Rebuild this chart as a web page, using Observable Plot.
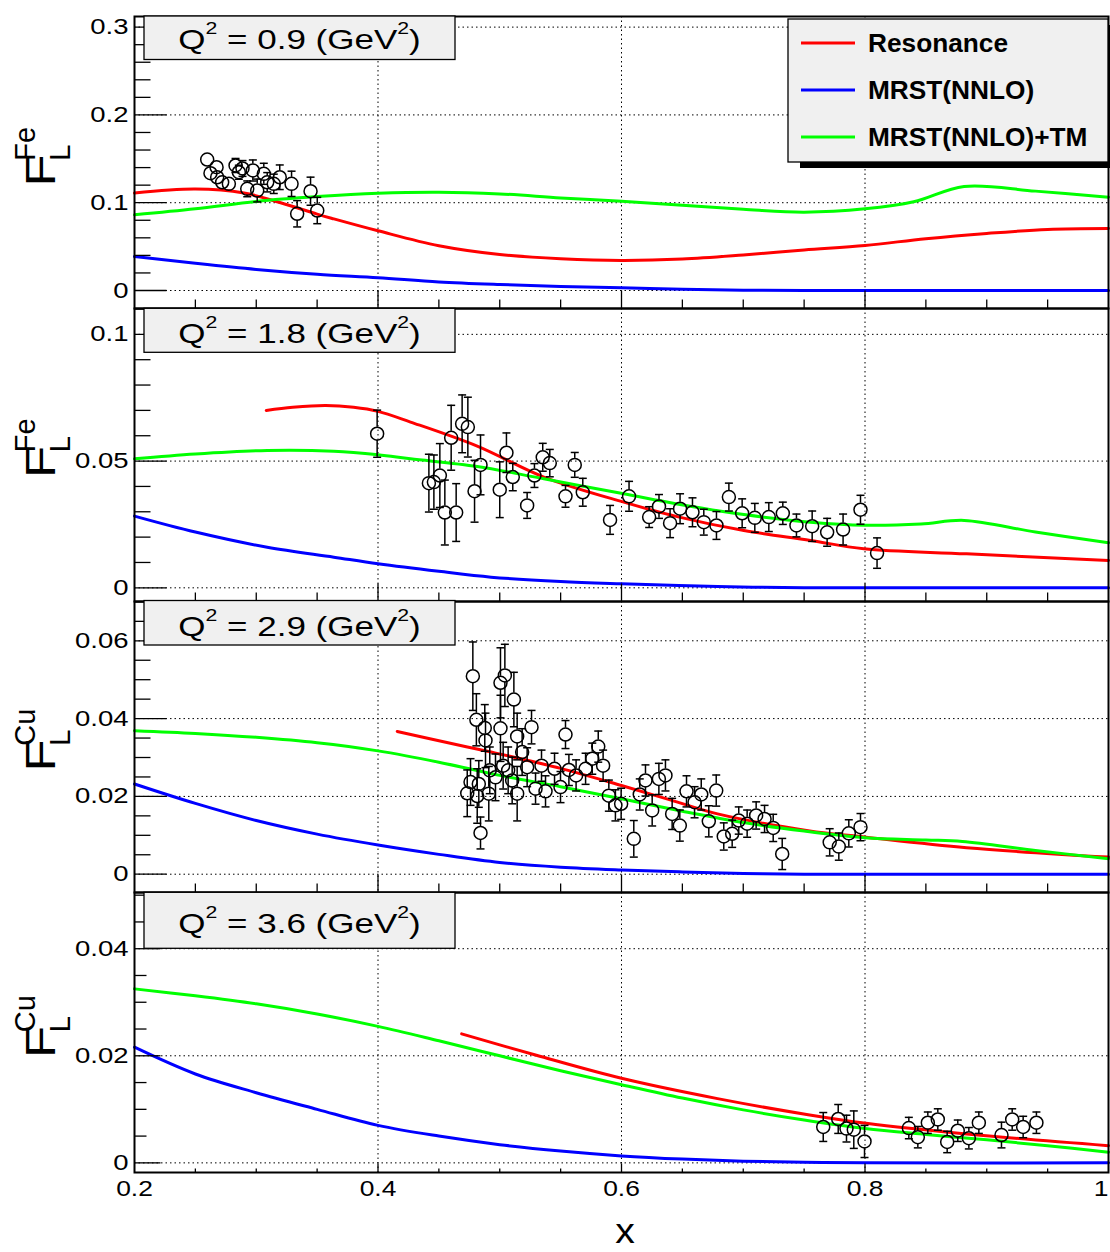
<!DOCTYPE html>
<html><head><meta charset="utf-8">
<script src="https://cdn.jsdelivr.net/npm/d3@7"></script>
<script src="https://cdn.jsdelivr.net/npm/@observablehq/plot@0.6"></script>
<style>
body{margin:0;background:#fff;}
#chart{position:relative;width:1110px;height:1252px;overflow:hidden;background:#fff;font-family:"Liberation Sans",Arial,Helvetica,sans-serif;}
#chart svg.panel{position:absolute;left:0;}
#overlay{position:absolute;left:0;top:0;pointer-events:none;}
</style></head><body><div id="chart"></div>
<script>
// ---------------- data ----------------
const xDomain = [0.2, 1.0];
const xTickValues = [0.2, 0.4, 0.6, 0.8, 1.0];
const q2Values = ["0.9", "1.8", "2.9", "3.6"];
const targets = ["Fe", "Fe", "Cu", "Cu"];
const legendNames = ["Resonance", "MRST(NNLO)", "MRST(NNLO)+TM"];

// Q2 = 0.9, Fe
const fe09YTicks = [0, 0.1, 0.2, 0.3];
const fe09Resonance = [[0.2,0.111],[0.25,0.1155],[0.29,0.111],[0.32,0.100],[0.35,0.087],[0.3637,0.0816],[0.4,0.068],[0.45,0.051],[0.5,0.041],[0.55,0.0362],[0.6,0.0342],[0.65,0.0358],[0.7,0.0405],[0.75,0.0462],[0.8,0.0513],[0.85,0.059],[0.9,0.065],[0.95,0.0695],[1.0,0.0706]];
const fe09Mrst = [[0.2,0.0387],[0.25,0.031],[0.3,0.024],[0.35,0.0185],[0.4,0.0145],[0.45,0.0098],[0.5,0.0068],[0.55,0.0045],[0.6,0.0031],[0.65,0.0014],[0.7,0.0004],[0.75,0],[0.85,0],[1.0,0]];
const fe09MrstTm = [[0.2,0.0862],[0.25,0.093],[0.3,0.1015],[0.35,0.107],[0.4,0.1108],[0.45,0.112],[0.5,0.110],[0.55,0.1055],[0.6,0.1017],[0.65,0.097],[0.7,0.0925],[0.75,0.0892],[0.8,0.093],[0.84,0.101],[0.8814,0.1185],[0.94,0.1132],[1.0,0.1063]];
const fe09X = [0.2597,0.2624,0.2674,0.2679,0.2720,0.2775,0.2830,0.2857,0.2887,0.2926,0.2972,0.3008,0.3062,0.3090,0.3144,0.3193,0.3290,0.3336,0.3446,0.3501];
const fe09Y = [0.1492,0.1336,0.1404,0.1290,0.1233,0.1215,0.1424,0.1347,0.1390,0.1158,0.1367,0.1139,0.1329,0.1233,0.1215,0.1290,0.1215,0.0874,0.1131,0.0911];
const fe09Err = [0.005,0.005,0.006,0.006,0.006,0.006,0.008,0.008,0.009,0.009,0.012,0.013,0.012,0.011,0.011,0.014,0.0144,0.015,0.016,0.015];

// Q2 = 1.8, Fe
const fe18YTicks = [0, 0.05, 0.1];
const fe18Resonance = [[0.3082,0.070],[0.33,0.0712],[0.357,0.0719],[0.38,0.0712],[0.4,0.0696],[0.4267,0.0654],[0.4815,0.0559],[0.5362,0.0437],[0.6019,0.0338],[0.6457,0.0281],[0.7005,0.0226],[0.7552,0.0187],[0.799,0.0154],[0.8834,0.0134],[1.0,0.0108]];
const fe18Mrst = [[0.2,0.0283],[0.25,0.022],[0.309,0.016],[0.3637,0.0121],[0.4,0.0095],[0.45,0.0065],[0.4928,0.0042],[0.55,0.0025],[0.6,0.0016],[0.6789,0.0005],[0.75,0],[0.85,0],[1.0,0]];
const fe18MrstTm = [[0.2,0.0509],[0.25,0.0528],[0.309,0.0542],[0.3637,0.0539],[0.4,0.0525],[0.4267,0.0509],[0.4815,0.0479],[0.5362,0.043],[0.6019,0.0371],[0.6457,0.0331],[0.7005,0.0289],[0.7552,0.0259],[0.8,0.0247],[0.846,0.0252],[0.8815,0.0266],[0.94,0.022],[1.0,0.0178]];
const fe18X = [0.3993,0.4418,0.4459,0.4508,0.4549,0.4601,0.4642,0.4691,0.4738,0.4793,0.4842,0.5000,0.5055,0.5107,0.5225,0.5285,0.5353,0.5411,0.5540,0.5616,0.5682,0.5906,0.6062,0.6227,0.6308,0.6399,0.6481,0.6583,0.6676,0.6780,0.6882,0.6991,0.7095,0.7210,0.7325,0.7437,0.7566,0.7689,0.7820,0.7963,0.8099];
const fe18Y = [0.0608,0.0413,0.0417,0.0443,0.0297,0.0592,0.0297,0.0647,0.0634,0.0381,0.0485,0.0387,0.0533,0.0437,0.0325,0.0443,0.0515,0.0492,0.0361,0.0485,0.0377,0.0268,0.0361,0.0279,0.0321,0.0255,0.0312,0.0298,0.0259,0.0246,0.0358,0.0294,0.0276,0.0279,0.0294,0.0246,0.0243,0.0219,0.0230,0.0308,0.0137];
const fe18Err = [0.0093,0.0114,0.0107,0.0126,0.0128,0.0128,0.0114,0.0114,0.0118,0.0122,0.0118,0.0110,0.0078,0.0054,0.0051,0.0047,0.0055,0.0054,0.0043,0.0049,0.0055,0.0057,0.0059,0.0041,0.0047,0.0057,0.0059,0.0057,0.0051,0.0055,0.0055,0.0057,0.0057,0.0057,0.0044,0.0045,0.0060,0.0055,0.0061,0.0057,0.0060];

// Q2 = 2.9, Cu
const cu29YTicks = [0, 0.02, 0.04, 0.06];
const cu29Resonance = [[0.4158,0.0367],[0.4678,0.0331],[0.4929,0.0314],[0.55,0.0272],[0.6,0.0228],[0.64,0.0191],[0.6789,0.0155],[0.7533,0.0112],[0.8009,0.0095],[0.8834,0.0068],[1.0,0.0044]];
const cu29Mrst = [[0.2,0.0232],[0.25,0.0182],[0.3,0.0138],[0.35,0.0103],[0.4,0.0075],[0.45,0.0051],[0.5,0.0030],[0.55,0.0018],[0.6,0.0011],[0.65,0.0006],[0.7,0.0002],[0.75,0],[0.85,0],[1.0,0]];
const cu29MrstTm = [[0.2,0.0369],[0.25,0.0362],[0.3,0.0352],[0.35,0.0338],[0.4,0.0317],[0.45,0.0288],[0.5,0.0254],[0.55,0.0225],[0.6,0.0194],[0.65,0.0162],[0.7,0.0133],[0.75,0.0111],[0.8,0.0094],[0.85,0.0088],[0.88,0.0084],[0.94,0.0061],[1.0,0.004]];
const cu29X = [0.4779,0.4808,0.4877,0.4883,0.5006,0.5042,0.5006,0.5116,0.5143,0.5184,0.5261,0.5540,0.4760,0.4828,0.4733,0.4815,0.4910,0.4965,0.5028,0.4918,0.5069,0.5102,0.5143,0.5225,0.5294,0.5343,0.5376,0.5450,0.5499,0.5568,0.5627,0.5705,0.5760,0.5809,0.4842,
  0.5849,0.5896,0.5950,0.5997,0.6101,0.6150,0.6197,0.6252,0.6307,0.6361,0.6416,0.6479,0.6534,0.6600,0.6655,0.6717,0.6778,0.6840,0.6909,0.6963,0.7032,0.7106,0.7175,0.7246,0.7320,0.7710,0.7785,0.7867,0.7963];
const cu29Y = [0.0509,0.0397,0.0376,0.0344,0.0492,0.0511,0.0375,0.0449,0.0354,0.0314,0.0378,0.0359,0.0237,0.0232,0.0208,0.0201,0.0207,0.0249,0.0279,0.0267,0.0267,0.0241,0.0207,0.0275,0.0220,0.0279,0.0213,0.0271,0.0224,0.0268,0.0254,0.0271,0.0297,0.0328,0.0106,
  0.0279,0.0202,0.0177,0.0181,0.0091,0.0205,0.0241,0.0164,0.0245,0.0254,0.0155,0.0125,0.0213,0.0185,0.0205,0.0136,0.0215,0.0097,0.0104,0.0138,0.0130,0.0151,0.0142,0.0119,0.0052,0.0082,0.0071,0.0105,0.0121];
const cu29Err = [0.0088,0.0067,0.0060,0.0070,0.0090,0.0080,0.0085,0.0070,0.0060,0.0060,0.0043,0.0036,0.0060,0.0060,0.0060,0.0070,0.0070,0.0060,0.0060,0.0060,0.0060,0.0060,0.0070,0.0050,0.0040,0.0040,0.0040,0.0040,0.0040,0.0040,0.0040,0.0040,0.0040,0.0040,0.0041,
  0.0040,0.0040,0.0040,0.0040,0.0047,0.0040,0.0040,0.0040,0.0040,0.0040,0.0040,0.0040,0.0040,0.0040,0.0040,0.0040,0.0040,0.0035,0.0035,0.0035,0.0035,0.0035,0.0035,0.0035,0.0040,0.0035,0.0035,0.0035,0.0035];

// Q2 = 3.6, Cu
const cu36YTicks = [0, 0.02, 0.04];
const cu36Resonance = [[0.4687,0.0241],[0.5301,0.0201],[0.6,0.0158],[0.6789,0.012],[0.7533,0.009],[0.8009,0.0074],[0.8834,0.0054],[1.0,0.0032]];
const cu36Mrst = [[0.2,0.0216],[0.25,0.0166],[0.3,0.0131],[0.35,0.0100],[0.4,0.0070],[0.45,0.0050],[0.5,0.0034],[0.55,0.0022],[0.6,0.0013],[0.65,0.0007],[0.7,0.0003],[0.75,0.0001],[0.8,0],[1.0,0]];
const cu36MrstTm = [[0.2,0.0325],[0.25,0.0312],[0.3,0.0297],[0.35,0.0278],[0.4,0.0255],[0.45,0.0228],[0.5,0.0200],[0.55,0.0172],[0.6,0.0146],[0.65,0.0121],[0.7,0.0099],[0.75,0.0080],[0.8,0.0064],[0.85,0.0053],[0.9,0.0043],[0.95,0.0032],[1.0,0.002]];
const cu36X = [0.7657,0.7780,0.7848,0.7908,0.7996,0.8360,0.8434,0.8516,0.8598,0.8675,0.8762,0.8853,0.8935,0.9121,0.9209,0.9299,0.9408];
const cu36Y = [0.0067,0.0082,0.0064,0.0062,0.0040,0.0065,0.0048,0.0075,0.0081,0.0039,0.0060,0.0046,0.0075,0.0052,0.0081,0.0067,0.0075];
const cu36Err = [0.0027,0.0027,0.0025,0.0035,0.0030,0.0020,0.0020,0.0020,0.0020,0.0020,0.0020,0.0020,0.0020,0.0024,0.0020,0.0020,0.0020];

// ---------------- layout ----------------
const COLORS = {res: "#ff0000", mrst: "#0000ff", tm: "#00ff00"};
const panels = [
  {top: 0, height: 308, mt: 16, mb: 0, domain: [-0.0205, 0.3121], yTicks: fe09YTicks, minorStep: 0.02, majLen: 32, minLen: 16, xMaj: 18, xMin: 9,
   res: fe09Resonance, mrst: fe09Mrst, tm: fe09MrstTm, px: fe09X, py: fe09Y, pe: fe09Err, box: [16, 59.5], base: 49, titleStart: 186.7},
  {top: 308, height: 293, mt: 0, mb: 0, domain: [-0.0054, 0.1102], yTicks: fe18YTicks, minorStep: 0.01, majLen: 32, minLen: 16, xMaj: 18, xMin: 9,
   res: fe18Resonance, mrst: fe18Mrst, tm: fe18MrstTm, px: fe18X, py: fe18Y, pe: fe18Err, box: [308.3, 352.3], base: 343, titleStart: 478.3},
  {top: 601, height: 291, mt: 0, mb: 0, domain: [-0.0047, 0.0701], yTicks: cu29YTicks, minorStep: 0.005, majLen: 32, minLen: 16, xMaj: 18, xMin: 9,
   res: cu29Resonance, mrst: cu29Mrst, tm: cu29MrstTm, px: cu29X, py: cu29Y, pe: cu29Err, box: [600.5, 645], base: 636, titleStart: 771.7},
  {top: 892, height: 360, mt: 0, mb: 80, domain: [-0.0018, 0.0505], yTicks: cu36YTicks, minorStep: 0.005, majLen: 26, minLen: 12, xMaj: 9, xMin: 4,
   res: cu36Resonance, mrst: cu36Mrst, tm: cu36MrstTm, px: cu36X, py: cu36Y, pe: cu36Err, box: [892.3, 948.3], base: 933, titleStart: 1058.3, last: true}
];

const tickRight = {draw(ctx, size) { const l = Math.sqrt(size / Math.PI); ctx.moveTo(0, 0); ctx.lineTo(l, 0); }};
const tickUp = {draw(ctx, size) { const l = Math.sqrt(size / Math.PI); ctx.moveTo(0, 0); ctx.lineTo(0, -l); }};
const capSym = {draw(ctx, size) { const l = Math.sqrt(size / Math.PI); ctx.moveTo(-l, 0); ctx.lineTo(l, 0); }};
const fmt = d => String(+(+d).toFixed(4));
const R = 6.5;

function stretchText(svg, test, s, edgeFix) {
  svg.querySelectorAll("text").forEach(t => {
    if (!test(t)) return;
    const xa = t.getAttribute("x"), ya = t.getAttribute("y");
    let tx = 0, ty = 0;
    if (xa != null && xa !== "" && isFinite(+xa)) { tx = +xa; t.removeAttribute("x"); }
    if (ya != null && ya !== "" && isFinite(+ya)) { ty = +ya; t.removeAttribute("y"); }
    const tr = t.getAttribute("transform") || "";
    if (edgeFix && t.textContent.trim() === "1") t.setAttribute("text-anchor", "end");
    t.setAttribute("transform", `${tr} translate(${tx},${ty}) scale(${s},1)`.trim());
  });
}

const chart = document.getElementById("chart");
const xMajorInner = [0.4, 0.6, 0.8];
const xMinor = d3.range(5, 20).map(i => +(i * 0.05).toFixed(2)).filter(v => !xTickValues.some(m => Math.abs(m - v) < 1e-9));

panels.forEach(cfg => {
  const {domain, height, mt, mb} = cfg;
  const k = (height - mt - mb) / (domain[1] - domain[0]);
  const pts = cfg.px.map((x, i) => ({x, y: cfg.py[i], e: cfg.pe[i]}));
  const barPts = pts.filter(d => d.e * k > R + 0.5);
  const nMinor = Math.floor(domain[1] / cfg.minorStep + 1e-6);
  const yMinor = d3.range(0, nMinor + 1).map(i => +(i * cfg.minorStep).toFixed(4))
    .filter(v => !cfg.yTicks.some(m => Math.abs(m - v) < 1e-9));
  const grid = {stroke: "black", strokeWidth: 1, strokeDasharray: "1.5,3"};
  const plot = Plot.plot({
    width: 1110, height, marginLeft: 134, marginRight: 2, marginTop: mt, marginBottom: mb,
    x: cfg.last ? {domain: xDomain, ticks: xTickValues, tickSize: 0, tickPadding: 8, tickFormat: fmt, label: null}
                : {domain: xDomain, axis: null},
    y: {domain, ticks: cfg.yTicks, tickSize: 0, tickPadding: 6, tickFormat: fmt, label: null},
    style: {background: "transparent", overflow: "visible", fontFamily: "'Liberation Sans', Arial, sans-serif", fontSize: "22px", color: "black"},
    marks: [
      Plot.ruleX(xMajorInner, grid),
      Plot.ruleY(cfg.yTicks, grid),
      Plot.line(cfg.res, {x: d => d[0], y: d => d[1], stroke: COLORS.res, strokeWidth: 3, curve: "catmull-rom"}),
      Plot.line(cfg.mrst, {x: d => d[0], y: d => d[1], stroke: COLORS.mrst, strokeWidth: 3, curve: "catmull-rom"}),
      Plot.line(cfg.tm, {x: d => d[0], y: d => d[1], stroke: COLORS.tm, strokeWidth: 3, curve: "catmull-rom"}),
      Plot.ruleX(barPts, {x: "x", y1: d => d.y + d.e, y2: "y", insetBottom: R, stroke: "black", strokeWidth: 1.5}),
      Plot.ruleX(barPts, {x: "x", y1: "y", y2: d => d.y - d.e, insetTop: R, stroke: "black", strokeWidth: 1.5}),
      Plot.dot(barPts, {x: "x", y: d => d.y + d.e, symbol: capSym, r: 4, stroke: "black", strokeWidth: 1.5, fill: "none"}),
      Plot.dot(barPts, {x: "x", y: d => d.y - d.e, symbol: capSym, r: 4, stroke: "black", strokeWidth: 1.5, fill: "none"}),
      Plot.dot(pts, {x: "x", y: "y", r: R, stroke: "black", strokeWidth: 1.5, fill: "none"}),
      Plot.dot(yMinor, {y: d => d, frameAnchor: "left", symbol: tickRight, r: cfg.minLen, stroke: "black", strokeWidth: 1.3, fill: "none"}),
      Plot.dot(cfg.yTicks, {y: d => d, frameAnchor: "left", symbol: tickRight, r: cfg.majLen, stroke: "black", strokeWidth: 1.3, fill: "none"}),
      Plot.dot(xMinor, {x: d => d, frameAnchor: "bottom", symbol: tickUp, r: cfg.xMin, stroke: "black", strokeWidth: 1.3, fill: "none"}),
      Plot.dot(xMajorInner, {x: d => d, frameAnchor: "bottom", symbol: tickUp, r: cfg.xMaj, stroke: "black", strokeWidth: 1.3, fill: "none"}),
      Plot.frame({stroke: "black", strokeWidth: 2})
    ]
  });
  plot.classList.add("panel");
  plot.style.top = cfg.top + "px";
  chart.appendChild(plot);
  stretchText(plot, t => t.closest('[aria-label^="y-axis"]'), 1.25, false);
  stretchText(plot, t => t.closest('[aria-label^="x-axis"]'), 1.2, true);
});

// ---------------- overlay: titles, labels, legend ----------------
let ov = `<svg id="overlay" width="1110" height="1252" font-family="'Liberation Sans', Arial, sans-serif">`;
panels.forEach((cfg, i) => {
  const [b0, b1] = cfg.box;
  ov += `<rect x="144" y="${b0}" width="311" height="${b1 - b0}" fill="#f0f0f0" stroke="black" stroke-width="1.3"/>`;
  ov += `<text transform="translate(299.5,${cfg.base}) scale(1.25,1)" text-anchor="middle" font-size="28" fill="black">Q<tspan font-size="17" dy="-15">2</tspan><tspan dy="15"> = ${q2Values[i]} (GeV</tspan><tspan font-size="17" dy="-15">2</tspan><tspan dy="15">)</tspan></text>`;
  ov += `<g transform="translate(55,${cfg.titleStart}) rotate(-90)" fill="black">
    <text transform="scale(1.27,1)" font-size="42">F</text>
    <text x="26" y="15" font-size="29">L</text>
    <text x="26" y="-20" font-size="29">${targets[i]}</text></g>`;
});
// legend
ov += `<rect x="800" y="25" width="320" height="143" fill="black"/>`;
ov += `<rect x="788" y="19" width="320" height="143" fill="#f0f0f0" stroke="black" stroke-width="1.3"/>`;
const legendColors = [COLORS.res, COLORS.mrst, COLORS.tm];
legendNames.forEach((name, i) => {
  const cy = 43 + i * 47;
  ov += `<line x1="801" x2="855" y1="${cy}" y2="${cy}" stroke="${legendColors[i]}" stroke-width="3"/>`;
  ov += `<text transform="translate(868,${cy + 9}) scale(1.05,1)" font-size="25" font-weight="bold" fill="black">${name}</text>`;
});
ov += `<text transform="translate(625,1243) scale(1.12,1)" text-anchor="middle" font-size="35" fill="black">x</text>`;
ov += `</svg>`;
chart.insertAdjacentHTML("beforeend", ov);
</script></body></html>
